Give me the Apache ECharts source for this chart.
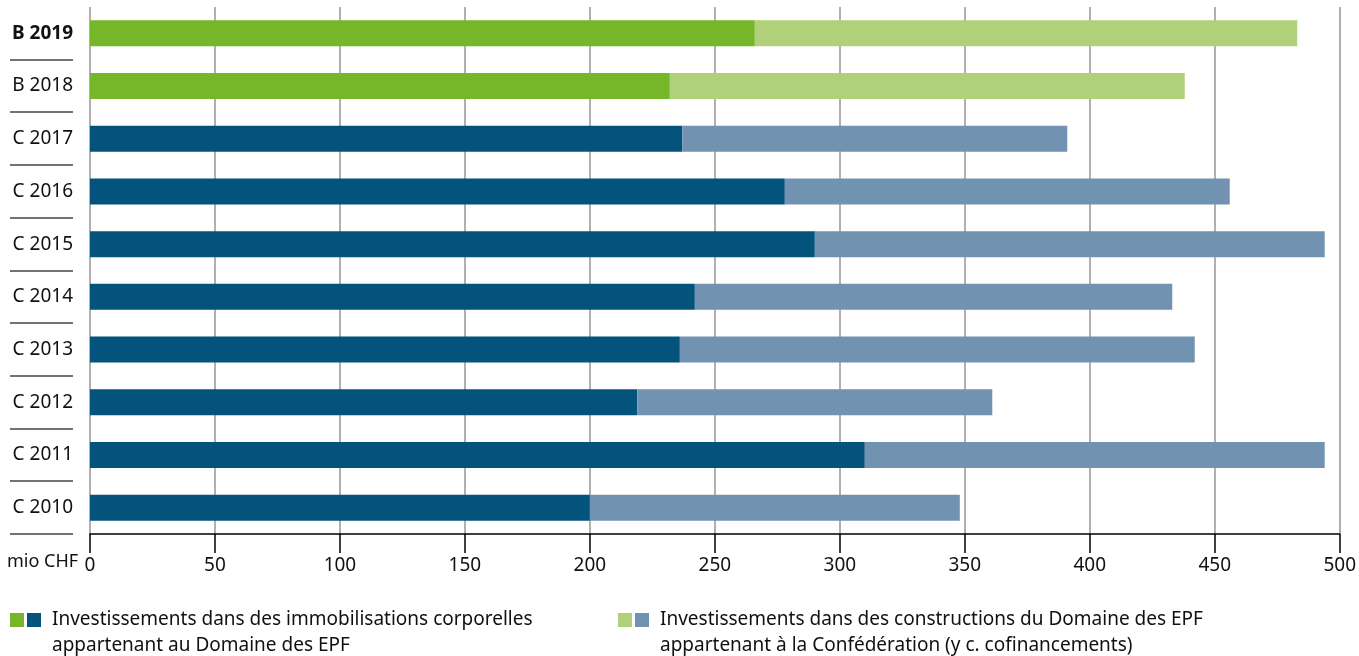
<!DOCTYPE html>
<html lang="fr">
<head>
    <meta charset="UTF-8">
    <title>Investissements Domaine des EPF</title>
    <script src="https://cdn.jsdelivr.net/npm/echarts@6/dist/echarts.min.js"></script>
    <style>
        html, body { margin: 0; padding: 0; background: #fff; }
        #chart { width: 1359px; height: 656px; }
    </style>
</head>
<body>
    <div id="chart"></div>
    <script>
        // categories, top to bottom
        const years = ['B 2019', 'B 2018', 'C 2017', 'C 2016', 'C 2015', 'C 2014', 'C 2013', 'C 2012', 'C 2011', 'C 2010'];
        // mio CHF
        const ownAssets = [266, 232, 237, 278, 290, 242, 236, 219, 310, 200];
        const federalBuildings = [217, 206, 154, 178, 204, 191, 206, 142, 184, 148];
        const xTicks = [0, 500, 50];

        const legendTexts = [
            'Investissements dans des immobilisations corporelles\nappartenant au Domaine des EPF',
            'Investissements dans des constructions du Domaine des EPF\nappartenant à la Confédération (y c. cofinancements)'
        ];
        const darkColors = { B: '#76b72a', C: '#03537c' };
        const lightColors = { B: '#b0d07a', C: '#7192b0' };

        const FONT = '"Noto Sans", sans-serif';
        const FS = 19;

        const chart = echarts.init(document.getElementById('chart'));

        function colored(values, palette) {
            return values.map((v, i) => ({
                value: v,
                itemStyle: { color: palette[years[i].charAt(0)] }
            }));
        }

        chart.setOption({
            animation: false,
            grid: { left: 90, right: 19, top: 7, bottom: 122 },
            xAxis: {
                type: 'value',
                min: xTicks[0],
                max: xTicks[1],
                interval: xTicks[2],
                axisLine: { show: true, lineStyle: { color: '#000', width: 1.5 } },
                axisTick: { show: true, length: 19, lineStyle: { color: '#000', width: 1.5 } },
                axisLabel: { color: '#111', fontSize: FS, fontFamily: FONT, margin: 22 },
                splitLine: { show: true, lineStyle: { color: '#b0b0b0', width: 2 } }
            },
            yAxis: {
                type: 'category',
                inverse: true,
                data: years,
                axisLine: { show: false },
                axisTick: { show: false },
                axisLabel: {
                    margin: 17,
                    color: '#111',
                    fontSize: FS,
                    fontFamily: FONT,
                    formatter: (v, i) => i === 0 ? '{b|' + v + '}' : v,
                    rich: { b: { fontWeight: 'bold', fontSize: FS, fontFamily: FONT, color: '#111' } }
                }
            },
            series: [
                {
                    name: 'base',
                    type: 'bar',
                    stack: 'total',
                    barWidth: 26,
                    data: colored(ownAssets, darkColors)
                },
                {
                    name: 'extra',
                    type: 'bar',
                    stack: 'total',
                    barWidth: 26,
                    data: colored(federalBuildings, lightColors)
                }
            ]
        });

        // separators between the category labels, placed from the axis scale
        const first = chart.convertToPixel({ yAxisIndex: 0 }, years[0]);
        const last = chart.convertToPixel({ yAxisIndex: 0 }, years[years.length - 1]);
        const band = (last - first) / (years.length - 1);
        const graphics = [];
        for (let i = 1; i <= years.length; i++) {
            const y = Math.round(first + band * (i - 0.5));
            graphics.push({
                type: 'line',
                shape: { x1: 10, y1: y, x2: 73, y2: y },
                style: { stroke: '#444', lineWidth: 1.5 }
            });
        }

        // unit label
        graphics.push({
            type: 'text', left: 7, top: 553,
            style: { text: 'mio CHF', fontSize: 18, fontFamily: FONT, fill: '#111' }
        });

        // legend
        const legendX = [10, 618];
        legendTexts.forEach((t, k) => {
            const key = k === 0 ? darkColors : lightColors;
            graphics.push({ type: 'rect', shape: { x: legendX[k], y: 613, width: 14, height: 14 }, style: { fill: key.B } });
            graphics.push({ type: 'rect', shape: { x: legendX[k] + 17, y: 613, width: 14, height: 14 }, style: { fill: key.C } });
            graphics.push({
                type: 'text', left: legendX[k] + 42, top: 607,
                style: { text: t, fontSize: FS, fontFamily: FONT, fill: '#111', lineHeight: 26 }
            });
        });

        chart.setOption({ graphic: graphics });
    </script>
</body>
</html>
